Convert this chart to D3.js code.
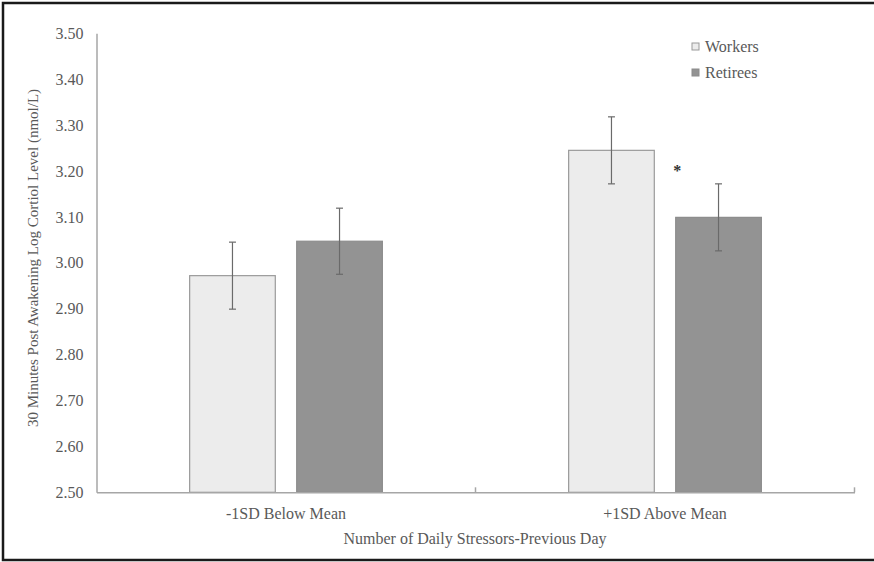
<!DOCTYPE html>
<html>
<head>
<meta charset="utf-8">
<script src="https://cdn.jsdelivr.net/npm/d3@7"></script>
<style>
	body { margin: 0; background: #fff; }
	svg, svg text { font-family: "Liberation Serif", "Times New Roman", serif; }
	svg { display: block; }
</style>
</head>
<body>
<div id="chart"></div>
<script>
'use strict';

// chart values
var categories = ["-1SD Below Mean", "+1SD Above Mean"];
var series = ["Workers", "Retirees"];
var workers = [2.972, 3.245];
var retirees = [3.047, 3.099];
var workersErr = [0.073, 0.073];
var retireesErr = [0.072, 0.073];
var significant = [false, true];
var yTicks = [2.5, 2.6, 2.7, 2.8, 2.9, 3.0, 3.1, 3.2, 3.3, 3.4, 3.5];

var width = 874, height = 562;
var fills = { Workers: "#ececec", Retirees: "#939393" };
var strokes = { Workers: "#9a9a9a", Retirees: "#8c8c8c" };
var textColor = "#595959";
var axisColor = "#a6a6a6";
var serif = '"Liberation Serif", "Times New Roman", serif';

var svg = d3.select("#chart").append("svg")
	.attr("width", width)
	.attr("height", height);

// outer frame
svg.append("rect")
	.attr("x", 3)
	.attr("y", 3)
	.attr("width", 890)
	.attr("height", 557)
	.attr("fill", "none")
	.attr("stroke", "#1a1a1a")
	.attr("stroke-width", 2.5);

var y = d3.scaleLinear().domain([2.5, 3.5]).range([492.3, 33.3]);
var x0 = d3.scaleBand().domain(categories).range([96.5, 854.5]).padding(0);
var x1 = d3.scaleBand().domain(series).range([0, x0.bandwidth()])
	.paddingInner(0.2).paddingOuter(0.87);

// rows for the bars
var rows = [];
categories.forEach(function (c, i) {
	rows.push({ cat: c, s: "Workers", v: workers[i], e: workersErr[i] });
	rows.push({ cat: c, s: "Retirees", v: retirees[i], e: retireesErr[i] });
});

// y axis
var yAxis = svg.append("g")
	.attr("transform", "translate(96.5,0)")
	.call(d3.axisLeft(y).tickValues(yTicks).tickFormat(d3.format(".2f"))
		.tickSize(0).tickSizeOuter(0).tickPadding(13));
yAxis.attr("font-family", serif);
yAxis.select(".domain").attr("stroke", axisColor).attr("stroke-width", 1.5);
yAxis.selectAll("text").attr("fill", textColor).style("font-size", "16px");

svg.append("text")
	.attr("transform", "translate(38,258) rotate(-90)")
	.attr("text-anchor", "middle")
	.attr("fill", textColor)
	.style("font-size", "15px")
	.text("30 Minutes Post Awakening Log Cortiol Level (nmol/L)");

// bars
svg.selectAll(".bar").data(rows).enter()
	.append("rect")
	.attr("class", "bar")
	.attr("x", function (d) { return x0(d.cat) + x1(d.s); })
	.attr("y", function (d) { return y(d.v); })
	.attr("width", x1.bandwidth())
	.attr("height", function (d) { return y(2.5) - y(d.v); })
	.attr("fill", function (d) { return fills[d.s]; })
	.attr("stroke", function (d) { return strokes[d.s]; })
	.attr("stroke-width", 1.2);

// error bars
var err = svg.selectAll(".err").data(rows).enter()
	.append("g")
	.attr("class", "err")
	.attr("stroke", "#6a6a6a")
	.attr("stroke-width", 1.2);
err.append("line")
	.attr("x1", function (d) { return x0(d.cat) + x1(d.s) + x1.bandwidth() / 2; })
	.attr("x2", function (d) { return x0(d.cat) + x1(d.s) + x1.bandwidth() / 2; })
	.attr("y1", function (d) { return y(d.v + d.e); })
	.attr("y2", function (d) { return y(d.v - d.e); });
[1, -1].forEach(function (sign) {
	err.append("line")
		.attr("x1", function (d) { return x0(d.cat) + x1(d.s) + x1.bandwidth() / 2 - 3.5; })
		.attr("x2", function (d) { return x0(d.cat) + x1(d.s) + x1.bandwidth() / 2 + 3.5; })
		.attr("y1", function (d) { return y(d.v + sign * d.e); })
		.attr("y2", function (d) { return y(d.v + sign * d.e); });
});

// significance marker
svg.selectAll(".sig").data(categories.filter(function (c, i) { return significant[i]; }))
	.enter().append("text")
	.attr("class", "sig")
	.attr("x", function (c) { return x0(c) + x1("Retirees") + 1.5; })
	.attr("y", function (c) {
		var i = categories.indexOf(c);
		return y(Math.max(workers[i] - workersErr[i], retirees[i] + retireesErr[i])) - 8;
	})
	.attr("text-anchor", "middle")
	.attr("fill", "#333")
	.style("font-size", "16px")
	.style("font-weight", "bold")
	.text("*");

// x axis
var xAxis = svg.append("g")
	.attr("transform", "translate(0," + y(2.5) + ")")
	.call(d3.axisBottom(x0).tickSize(0).tickSizeOuter(0).tickPadding(15));
xAxis.attr("font-family", serif);
xAxis.select(".domain").attr("stroke", axisColor).attr("stroke-width", 1.5);
xAxis.selectAll("text").attr("fill", textColor).style("font-size", "16px");

// boundary ticks pointing up
xAxis.selectAll(".bound").data(categories).enter()
	.append("line")
	.attr("class", "bound")
	.attr("x1", function (c) { return x0(c) + x0.bandwidth(); })
	.attr("x2", function (c) { return x0(c) + x0.bandwidth(); })
	.attr("y1", 0)
	.attr("y2", -5)
	.attr("stroke", axisColor)
	.attr("stroke-width", 1.5);

svg.append("text")
	.attr("x", 475)
	.attr("y", 544)
	.attr("text-anchor", "middle")
	.attr("fill", textColor)
	.style("font-size", "16px")
	.text("Number of Daily Stressors-Previous Day");

// legend
var legend = svg.selectAll(".legend").data(series).enter()
	.append("g")
	.attr("class", "legend")
	.attr("transform", function (d, i) { return "translate(692," + (43 + i * 26) + ")"; });
legend.append("rect")
	.attr("width", 7)
	.attr("height", 7)
	.attr("fill", function (d) { return fills[d]; })
	.attr("stroke", function (d) { return strokes[d]; })
	.attr("stroke-width", 1);
legend.append("text")
	.attr("x", 13)
	.attr("y", 3.5)
	.attr("dy", "0.35em")
	.attr("fill", textColor)
	.style("font-size", "16px")
	.text(function (d) { return d; });
</script>
</body>
</html>
